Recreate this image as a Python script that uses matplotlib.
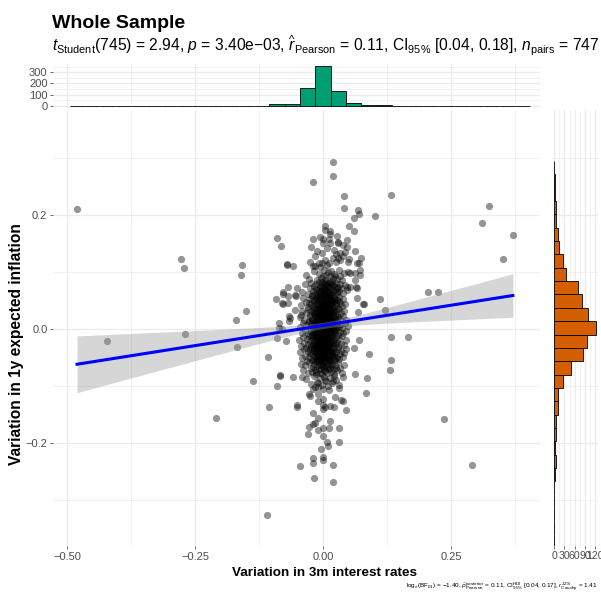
import numpy as np
import matplotlib
matplotlib.use("Agg")
import matplotlib.pyplot as plt

plt.rcParams['font.family'] = ['Liberation Sans', 'DejaVu Sans']
plt.rcParams['mathtext.fontset'] = 'custom'
plt.rcParams['mathtext.rm'] = 'Liberation Sans'
plt.rcParams['mathtext.it'] = 'Liberation Sans:italic'
plt.rcParams['mathtext.bf'] = 'Liberation Sans:bold'

########## data (x = 3m rate change, y = 1y inflation change) ##########
# isolated points away from the central cloud
pts_far = [(-0.481, 0.210), (-0.279, 0.123), (-0.273, 0.106), (-0.158, 0.112), (-0.160, 0.095),
           (-0.152, 0.031), (-0.171, 0.015), (-0.270, -0.009), (-0.423, -0.022), (-0.168, -0.031),
           (-0.108, -0.049), (-0.138, -0.091), (-0.106, -0.137), (-0.209, -0.157), (-0.111, -0.327),
           (0.132, 0.234), (0.100, 0.198), (0.323, 0.216), (0.310, 0.185), (0.370, 0.165),
           (0.350, 0.122), (0.204, 0.065), (0.223, 0.064), (0.111, 0.053), (0.121, 0.033),
           (0.132, -0.015), (0.165, -0.014), (0.090, -0.044), (0.132, -0.054), (0.130, -0.073),
           (0.085, -0.087), (0.084, -0.112), (0.236, -0.158), (0.290, -0.239)]
# points at the left/right fringe of the cloud
pts_fringe = [(-0.090, 0.160), (-0.082, 0.146), (-0.071, 0.112), (-0.071, 0.114), (-0.060, 0.111),
              (-0.092, 0.052), (-0.069, 0.074), (-0.078, 0.061), (-0.078, 0.044), (-0.070, 0.045),
              (-0.086, 0.011), (-0.081, -0.001), (-0.068, 0.023), (-0.068, 0.013), (-0.080, 0.046),
              (-0.078, 0.065), (-0.052, 0.072), (-0.055, 0.060), (-0.070, 0.057), (-0.055, 0.033),
              (-0.065, 0.019), (-0.044, 0.025), (-0.087, 0.002), (-0.053, 0.058), (-0.091, -0.016),
              (-0.073, -0.022), (-0.085, -0.081), (-0.084, -0.083), (-0.090, -0.101), (-0.060, -0.084),
              (-0.042, -0.085), (-0.052, -0.133), (-0.051, -0.137),
              (0.080, 0.044), (0.078, 0.044), (0.068, 0.030), (0.070, -0.019), (0.060, -0.033),
              (0.061, -0.080), (0.065, 0.071), (0.052, 0.074), (0.064, 0.073), (0.047, 0.074),
              (0.065, 0.054), (0.062, 0.086), (0.072, 0.095), (0.061, 0.098), (0.072, 0.104),
              (0.049, 0.099), (0.052, 0.098), (0.065, 0.115), (0.070, 0.115), (0.073, 0.124)]
# points above the cloud
pts_upper = [(0.0195, 0.292), (0.0195, 0.269), (-0.020, 0.257), (0.040, 0.233), (0.040, 0.212),
             (0.067, 0.208), (0.070, 0.202), (0.060, 0.195), (0.004, 0.181), (0.013, 0.171),
             (0.050, 0.180), (0.060, 0.171), (0.013, 0.167), (-0.021, 0.158), (-0.006, 0.161),
             (0.000, 0.158), (0.011, 0.158), (0.046, 0.156), (0.029, 0.152), (-0.024, 0.144),
             (0.000, 0.150), (0.013, 0.150), (0.029, 0.150), (0.046, 0.144), (0.042, 0.135),
             (0.033, 0.133), (0.062, 0.136), (0.020, 0.139), (-0.003, 0.133), (0.033, 0.121),
             (0.049, 0.118), (0.050, 0.122), (0.038, 0.127), (0.018, 0.124), (-0.016, 0.127),
             (-0.003, 0.115), (-0.009, 0.115), (-0.016, 0.111), (-0.020, 0.111), (0.033, 0.092),
             (0.023, 0.092), (0.013, 0.092), (0.026, 0.065), (0.018, 0.051), (0.007, 0.051)]
# points below the cloud
pts_lower = [(0.044, -0.143), (0.039, -0.126), (0.034, -0.125), (0.020, -0.137), (0.030, -0.104),
             (0.022, -0.120), (0.010, -0.108), (0.000, -0.105), (-0.020, -0.106), (-0.010, -0.095),
             (-0.016, -0.102), (-0.010, -0.115), (0.000, -0.123), (0.013, -0.136), (-0.029, -0.115),
             (-0.026, -0.118), (-0.010, -0.126), (0.000, -0.141), (0.004, -0.137), (0.000, -0.133),
             (-0.020, -0.148), (-0.010, -0.156), (0.013, -0.161), (-0.017, -0.165), (-0.020, -0.167),
             (-0.029, -0.173), (-0.030, -0.185), (-0.010, -0.178), (0.000, -0.174), (0.010, -0.174),
             (0.030, -0.174), (0.000, -0.188), (0.008, -0.199), (0.009, -0.206), (0.030, -0.198),
             (-0.004, -0.211), (-0.020, -0.227), (-0.020, -0.235), (0.000, -0.225), (0.000, -0.230),
             (-0.046, -0.240), (0.0195, -0.239), (-0.018, -0.261), (0.0195, -0.268)]
# dense central cloud, listed band by band from top to bottom
pts_core = [
    (-0.026, 0.118), (-0.006, 0.108), (0.008, 0.112), (0.024, 0.117), (0.028, 0.124), (0.010, 0.116),
    (0.004, 0.121), (-0.012, 0.137), (0.007, 0.142), (0.024, 0.131), (0.038, 0.147), (0.003, 0.174),
    (0.027, 0.163),
    (-0.028, 0.088), (-0.019, 0.101), (-0.012, 0.085), (-0.008, 0.097), (-0.004, 0.090), (0.001, 0.104),
    (0.003, 0.086), (0.006, 0.094), (0.009, 0.099), (0.012, 0.084), (0.015, 0.102), (0.018, 0.089),
    (0.021, 0.096), (0.026, 0.087), (0.030, 0.103), (0.036, 0.085), (0.041, 0.098), (-0.033, 0.095),
    (0.000, 0.093),
    (-0.041, 0.064), (-0.036, 0.078), (-0.031, 0.061), (-0.027, 0.072), (-0.024, 0.081), (-0.021, 0.066),
    (-0.019, 0.075), (-0.016, 0.062), (-0.014, 0.079), (-0.012, 0.069), (-0.010, 0.060), (-0.009, 0.083),
    (-0.007, 0.071), (-0.006, 0.064), (-0.004, 0.077), (-0.003, 0.068), (-0.002, 0.082), (-0.001, 0.061),
    (0.000, 0.074), (0.001, 0.066), (0.002, 0.080), (0.003, 0.063), (0.004, 0.072), (0.005, 0.078),
    (0.006, 0.060), (0.007, 0.069), (0.008, 0.076), (0.009, 0.065), (0.010, 0.081), (0.011, 0.062),
    (0.012, 0.073), (0.013, 0.067), (0.014, 0.079), (0.015, 0.061), (0.016, 0.070), (0.017, 0.083),
    (0.019, 0.064), (0.020, 0.076), (0.022, 0.068), (0.024, 0.080), (0.026, 0.062), (0.028, 0.074),
    (0.030, 0.066), (0.032, 0.079), (0.035, 0.071), (0.038, 0.063), (0.042, 0.077), (0.046, 0.069),
    (-0.015, 0.070), (-0.005, 0.075), (0.003, 0.068), (0.009, 0.073), (0.018, 0.077), (-0.022, 0.060),
    (0.000, 0.063), (0.006, 0.082), (-0.009, 0.066), (0.013, 0.059), (0.027, 0.071),
    (-0.044, 0.041), (-0.039, 0.055), (-0.034, 0.047), (-0.030, 0.038), (-0.027, 0.052), (-0.024, 0.044),
    (-0.022, 0.057), (-0.020, 0.040), (-0.018, 0.049), (-0.016, 0.036), (-0.015, 0.054), (-0.013, 0.045),
    (-0.012, 0.058), (-0.011, 0.039), (-0.010, 0.050), (-0.009, 0.043), (-0.008, 0.056), (-0.007, 0.037),
    (-0.006, 0.048), (-0.005, 0.053), (-0.004, 0.041), (-0.003, 0.046), (-0.002, 0.058), (-0.001, 0.039),
    (0.000, 0.051), (0.000, 0.044), (0.001, 0.055), (0.002, 0.037), (0.003, 0.049), (0.004, 0.042),
    (0.004, 0.057), (0.005, 0.046), (0.006, 0.038), (0.007, 0.052), (0.008, 0.044), (0.009, 0.056),
    (0.010, 0.040), (0.011, 0.048), (0.012, 0.054), (0.013, 0.036), (0.014, 0.045), (0.015, 0.051),
    (0.016, 0.041), (0.018, 0.058), (0.019, 0.047), (0.021, 0.039), (0.023, 0.053), (0.025, 0.043),
    (0.027, 0.050), (0.029, 0.037), (0.031, 0.056), (0.033, 0.046), (0.036, 0.040), (0.039, 0.052),
    (0.043, 0.044), (-0.028, 0.046), (-0.017, 0.042), (-0.006, 0.059), (0.002, 0.047), (0.007, 0.041),
    (0.011, 0.057), (0.017, 0.049), (0.024, 0.045), (-0.012, 0.050), (-0.003, 0.038), (0.005, 0.055),
    (0.013, 0.043), (0.020, 0.054), (-0.020, 0.051), (0.030, 0.048), (0.000, 0.040),
    (-0.045, 0.020), (-0.041, 0.031), (-0.037, 0.016), (-0.034, 0.027), (-0.031, 0.035), (-0.029, 0.014),
    (-0.027, 0.024), (-0.025, 0.032), (-0.023, 0.018), (-0.021, 0.029), (-0.020, 0.015), (-0.018, 0.034),
    (-0.017, 0.022), (-0.016, 0.027), (-0.015, 0.013), (-0.014, 0.030), (-0.013, 0.019), (-0.012, 0.025),
    (-0.011, 0.035), (-0.010, 0.016), (-0.009, 0.028), (-0.009, 0.021), (-0.008, 0.033), (-0.007, 0.014),
    (-0.007, 0.026), (-0.006, 0.019), (-0.005, 0.031), (-0.005, 0.023), (-0.004, 0.015), (-0.003, 0.029),
    (-0.003, 0.036), (-0.002, 0.020), (-0.001, 0.026), (-0.001, 0.013), (0.000, 0.032), (0.000, 0.022),
    (0.001, 0.017), (0.001, 0.029), (0.002, 0.024), (0.002, 0.035), (0.003, 0.014), (0.003, 0.027),
    (0.004, 0.020), (0.004, 0.031), (0.005, 0.016), (0.005, 0.025), (0.006, 0.033), (0.006, 0.019),
    (0.007, 0.028), (0.007, 0.013), (0.008, 0.023), (0.008, 0.034), (0.009, 0.018), (0.010, 0.030),
    (0.010, 0.021), (0.011, 0.026), (0.012, 0.015), (0.012, 0.032), (0.013, 0.024), (0.014, 0.019),
    (0.015, 0.029), (0.016, 0.014), (0.017, 0.035), (0.018, 0.022), (0.019, 0.027), (0.020, 0.017),
    (0.021, 0.031), (0.023, 0.020), (0.024, 0.033), (0.026, 0.015), (0.027, 0.026), (0.029, 0.021),
    (0.031, 0.034), (0.033, 0.018), (0.035, 0.028), (0.038, 0.023), (0.041, 0.031), (0.045, 0.016),
    (-0.026, 0.021), (-0.019, 0.028), (-0.010, 0.024), (-0.004, 0.034), (0.002, 0.018), (0.006, 0.029),
    (0.011, 0.022), (0.016, 0.033), (0.022, 0.025), (-0.014, 0.017), (0.000, 0.027), (0.009, 0.014),
    (-0.046, 0.004), (-0.042, -0.007), (-0.039, 0.010), (-0.036, -0.002), (-0.033, 0.006), (-0.031, -0.009),
    (-0.029, 0.012), (-0.027, 0.001), (-0.025, -0.005), (-0.023, 0.008), (-0.022, -0.010), (-0.021, 0.003),
    (-0.019, 0.011), (-0.018, -0.004), (-0.017, 0.006), (-0.016, -0.008), (-0.015, 0.000), (-0.014, 0.009),
    (-0.014, -0.003), (-0.013, 0.004), (-0.012, -0.011), (-0.012, 0.012), (-0.011, -0.001), (-0.010, 0.007),
    (-0.010, -0.006), (-0.009, 0.002), (-0.009, 0.010), (-0.008, -0.004), (-0.008, 0.005), (-0.007, -0.009),
    (-0.007, 0.013), (-0.006, 0.000), (-0.006, 0.008), (-0.005, -0.005), (-0.005, 0.003), (-0.004, 0.011),
    (-0.004, -0.002), (-0.003, 0.006), (-0.003, -0.008), (-0.002, 0.001), (-0.002, 0.009), (-0.001, -0.006),
    (-0.001, 0.004), (0.000, -0.010), (0.000, 0.012), (0.000, 0.002), (0.001, -0.003), (0.001, 0.007),
    (0.002, -0.007), (0.002, 0.010), (0.003, 0.000), (0.003, 0.005), (0.004, -0.009), (0.004, 0.013),
    (0.005, -0.001), (0.005, 0.008), (0.006, -0.005), (0.006, 0.003), (0.007, 0.011), (0.007, -0.004),
    (0.008, 0.006), (0.008, -0.010), (0.009, 0.001), (0.009, 0.009), (0.010, -0.006), (0.010, 0.004),
    (0.011, 0.012), (0.011, -0.002), (0.012, 0.007), (0.012, -0.008), (0.013, 0.002), (0.014, 0.010),
    (0.014, -0.005), (0.015, 0.005), (0.016, -0.001), (0.017, 0.011), (0.017, -0.009), (0.018, 0.003),
    (0.019, 0.008), (0.020, -0.004), (0.021, 0.012), (0.022, 0.000), (0.023, -0.007), (0.024, 0.006),
    (0.025, -0.002), (0.027, 0.010), (0.028, -0.010), (0.030, 0.004), (0.032, -0.005), (0.034, 0.008),
    (0.036, 0.001), (0.039, -0.008), (0.042, 0.011), (0.045, -0.003), (0.048, 0.005), (-0.020, -0.007),
    (-0.011, 0.009), (-0.003, -0.011), (0.001, 0.011), (0.006, -0.008), (0.013, 0.008), (-0.016, 0.005),
    (-0.008, -0.001), (0.004, 0.002), (0.009, -0.003), (0.016, 0.012), (-0.001, 0.006), (0.003, -0.004),
    (-0.013, -0.006), (0.019, -0.002), (0.026, 0.003), (-0.024, 0.011), (0.011, 0.000), (-0.006, 0.012),
    (0.000, -0.005), (0.007, 0.008),
    (-0.047, -0.019), (-0.043, -0.030), (-0.040, -0.014), (-0.037, -0.025), (-0.034, -0.033), (-0.032, -0.017),
    (-0.030, -0.027), (-0.028, -0.012), (-0.026, -0.022), (-0.024, -0.031), (-0.023, -0.016), (-0.021, -0.026),
    (-0.020, -0.013), (-0.019, -0.034), (-0.018, -0.020), (-0.017, -0.029), (-0.016, -0.015), (-0.015, -0.024),
    (-0.014, -0.032), (-0.013, -0.018), (-0.012, -0.027), (-0.011, -0.012), (-0.011, -0.021), (-0.010, -0.030),
    (-0.009, -0.016), (-0.009, -0.025), (-0.008, -0.033), (-0.007, -0.019), (-0.007, -0.028), (-0.006, -0.013),
    (-0.005, -0.023), (-0.005, -0.031), (-0.004, -0.017), (-0.003, -0.026), (-0.003, -0.014), (-0.002, -0.022),
    (-0.001, -0.032), (-0.001, -0.018), (0.000, -0.027), (0.000, -0.012), (0.001, -0.021), (0.002, -0.030),
    (0.002, -0.016), (0.003, -0.025), (0.004, -0.034), (0.004, -0.019), (0.005, -0.028), (0.006, -0.013),
    (0.006, -0.023), (0.007, -0.031), (0.008, -0.017), (0.009, -0.026), (0.009, -0.014), (0.010, -0.022),
    (0.011, -0.032), (0.012, -0.018), (0.013, -0.027), (0.014, -0.012), (0.015, -0.021), (0.016, -0.030),
    (0.017, -0.016), (0.018, -0.025), (0.020, -0.033), (0.021, -0.019), (0.023, -0.028), (0.025, -0.014),
    (0.027, -0.023), (0.029, -0.031), (0.031, -0.017), (0.034, -0.026), (0.037, -0.013), (0.040, -0.029),
    (0.044, -0.020), (-0.025, -0.029), (-0.015, -0.013), (-0.008, -0.024), (-0.002, -0.029), (0.003, -0.014),
    (0.008, -0.033), (0.012, -0.024), (0.019, -0.012), (-0.012, -0.033), (-0.004, -0.020), (0.001, -0.026),
    (0.005, -0.017), (0.011, -0.028), (-0.018, -0.023), (0.024, -0.024),
    (-0.046, -0.041), (-0.042, -0.052), (-0.038, -0.036), (-0.035, -0.047), (-0.032, -0.056), (-0.030, -0.039),
    (-0.028, -0.050), (-0.026, -0.035), (-0.024, -0.044), (-0.022, -0.054), (-0.021, -0.038), (-0.019, -0.048),
    (-0.018, -0.034), (-0.017, -0.057), (-0.016, -0.042), (-0.015, -0.051), (-0.014, -0.037), (-0.013, -0.046),
    (-0.012, -0.055), (-0.011, -0.040), (-0.010, -0.049), (-0.009, -0.035), (-0.008, -0.044), (-0.007, -0.053),
    (-0.006, -0.039), (-0.005, -0.048), (-0.005, -0.036), (-0.004, -0.057), (-0.003, -0.043), (-0.002, -0.051),
    (-0.001, -0.038), (0.000, -0.046), (0.000, -0.055), (0.001, -0.035), (0.002, -0.044), (0.003, -0.052),
    (0.004, -0.040), (0.004, -0.049), (0.005, -0.034), (0.006, -0.056), (0.007, -0.042), (0.008, -0.050),
    (0.009, -0.037), (0.010, -0.045), (0.011, -0.054), (0.012, -0.039), (0.013, -0.048), (0.014, -0.036),
    (0.015, -0.057), (0.016, -0.043), (0.018, -0.051), (0.019, -0.038), (0.021, -0.047), (0.022, -0.055),
    (0.024, -0.041), (0.026, -0.049), (0.028, -0.035), (0.030, -0.053), (0.032, -0.044), (0.035, -0.038),
    (0.038, -0.050), (0.041, -0.042), (0.045, -0.036), (-0.027, -0.043), (-0.020, -0.055), (-0.012, -0.045),
    (-0.006, -0.051), (-0.001, -0.041), (0.003, -0.047), (0.007, -0.036), (0.011, -0.051), (0.017, -0.046),
    (0.025, -0.052), (-0.015, -0.039), (-0.008, -0.056), (0.002, -0.038), (0.009, -0.053), (0.014, -0.041),
    (-0.003, -0.047), (0.020, -0.042),
    (-0.044, -0.061), (-0.039, -0.072), (-0.035, -0.064), (-0.031, -0.078), (-0.028, -0.059), (-0.025, -0.069),
    (-0.022, -0.076), (-0.019, -0.062), (-0.017, -0.073), (-0.015, -0.080), (-0.013, -0.066), (-0.011, -0.058),
    (-0.009, -0.071), (-0.007, -0.077), (-0.005, -0.063), (-0.004, -0.070), (-0.002, -0.079), (0.000, -0.060),
    (0.001, -0.067), (0.003, -0.074), (0.004, -0.058), (0.006, -0.065), (0.007, -0.078), (0.009, -0.062),
    (0.010, -0.071), (0.012, -0.057), (0.013, -0.068), (0.015, -0.076), (0.017, -0.061), (0.019, -0.070),
    (0.021, -0.079), (0.023, -0.064), (0.026, -0.073), (0.029, -0.059), (0.032, -0.068), (0.036, -0.077),
    (0.040, -0.063), (-0.020, -0.067), (-0.008, -0.063), (0.002, -0.072), (0.008, -0.069), (0.014, -0.063),
    (-0.014, -0.075), (-0.001, -0.066), (0.024, -0.069),
    (-0.033, -0.088), (-0.024, -0.097), (-0.018, -0.083), (-0.012, -0.093), (-0.007, -0.086), (-0.003, -0.099),
    (0.001, -0.084), (0.005, -0.092), (0.009, -0.101), (0.012, -0.087), (0.016, -0.095), (0.020, -0.082),
    (0.025, -0.090), (0.031, -0.098), (0.038, -0.085), (-0.010, -0.102), (0.003, -0.089), (0.018, -0.091)]

# marginal histogram counts
x_bin_start, x_bin_width = -0.4956, 0.0300
x_counts = [1, 0, 1, 0, 0, 0, 0, 3, 0, 1, 2, 4, 3, 14, 22, 156, 355, 135, 30, 6, 6, 0, 1, 2, 1, 0, 2, 1, 2, 0]
y_bin_start, y_bin_width = -0.3848, 0.02343
y_counts = [0, 0, 1, 0, 0, 2, 7, 3, 7, 6, 11, 11, 26, 48, 83, 96, 122, 99, 81, 70, 34, 26, 15, 11, 6, 6, 2, 2, 1]

title = "Whole Sample"
subtitle = (r"$t_{\mathrm{Student}}$(745) = 2.94, $p$ = 3.40e" + "\u2212" + r"03, "
            r"$\widehat{r}_{\mathrm{Pearson}}$ = 0.11, CI$_{95\%}$ [0.04, 0.18], $n_{\mathrm{pairs}}$ = 747")
caption = (r"log$_{e}$(BF$_{01}$) = " + "\u2212" + r"1.40, $\widehat{\rho}_{\mathrm{Pearson}}^{\mathrm{posterior}}$ = 0.11, "
           r"CI$_{95\%}^{\mathrm{HDI}}$ [0.04, 0.17], $r_{\mathrm{Cauchy}}^{\mathrm{JZS}}$ = 1.41")

pts = np.array(pts_far + pts_fringe + pts_upper + pts_lower + pts_core)
x, y = pts[:, 0], pts[:, 1]

W, H = 601, 592
fig = plt.figure(figsize=(W / 100, H / 100), dpi=100)
ax = fig.add_axes([53 / W, 46 / H, 487 / W, 436 / H])
ax_top = fig.add_axes([53 / W, 484 / H, 487 / W, 44 / H])
ax_right = fig.add_axes([552 / W, 46 / H, 46 / W, 436 / H])

tick_col = '#333333'
lab_col = '#4D4D4D'
grid_col = '#EBEBEB'


def style(a):
    for s in a.spines.values():
        s.set_visible(False)
    a.set_axisbelow(True)
    a.grid(which='major', color=grid_col, linewidth=0.9)
    a.grid(which='minor', color=grid_col, linewidth=0.5)
    a.tick_params(which='major', length=2.5, width=0.5, color=tick_col, labelcolor=lab_col, labelsize=8, pad=1.5)
    a.tick_params(which='minor', length=0)


# scatter + linear fit with 95% CI
ax.scatter(x, y, s=27, color='black', alpha=0.42, linewidths=0, zorder=2)
slope, intercept = np.polyfit(x, y, 1)
n = len(x)
resid = y - (slope * x + intercept)
s_err = np.sqrt(np.sum(resid ** 2) / (n - 2))
sxx = np.sum((x - x.mean()) ** 2)
xf = np.linspace(x.min(), x.max(), 100)
yf = slope * xf + intercept
half = 1.963 * s_err * np.sqrt(1 / n + (xf - x.mean()) ** 2 / sxx)
ax.fill_between(xf, yf - half, yf + half, color='#999999', alpha=0.4, linewidth=0, zorder=3)
ax.plot(xf, yf, color='blue', linewidth=2.2, zorder=4)

ax.set_xlim(-0.528, 0.423)
ax.set_ylim(-0.381, 0.384)
ax.set_xticks([-0.5, -0.25, 0.0, 0.25])
ax.set_xticklabels(['\u22120.50', '\u22120.25', '0.00', '0.25'])
ax.set_xticks([-0.375, -0.125, 0.125, 0.375], minor=True)
ax.set_yticks([-0.2, 0.0, 0.2])
ax.set_yticklabels(['\u22120.2', '0.0', '0.2'])
ax.set_yticks([-0.3, -0.1, 0.1, 0.3], minor=True)
style(ax)

# top marginal histogram
x_left = [x_bin_start + i * x_bin_width for i in range(len(x_counts))]
ax_top.bar(x_left, x_counts, width=x_bin_width, align='edge', color='#009E73',
           edgecolor='black', linewidth=0.6, zorder=2)
ax_top.set_xlim(ax.get_xlim())
ax_top.set_xticks(ax.get_xticks())
ax_top.set_xticks([-0.375, -0.125, 0.125, 0.375], minor=True)
ax_top.set_xticklabels([])
ax_top.set_ylim(-17.75, 372.75)
ax_top.set_yticks([0, 100, 200, 300])
ax_top.set_yticks([50, 150, 250, 350], minor=True)
style(ax_top)
ax_top.tick_params(axis='x', length=0)

# right marginal histogram
y_low = [y_bin_start + i * y_bin_width for i in range(len(y_counts))]
ax_right.barh(y_low, y_counts, height=y_bin_width, align='edge', color='#D55E00',
              edgecolor='black', linewidth=0.6, zorder=2)
ax_right.set_ylim(ax.get_ylim())
ax_right.set_yticks([-0.2, 0.0, 0.2])
ax_right.set_yticks([-0.3, -0.1, 0.1, 0.3], minor=True)
ax_right.set_yticklabels([])
ax_right.set_xlim(-6.1, 128.1)
ax_right.set_xticks([0, 30, 60, 90, 120])
ax_right.set_xticks([15, 45, 75, 105], minor=True)
style(ax_right)
ax_right.tick_params(axis='y', length=0)
ax_right.tick_params(axis='x', labelsize=7.6, pad=1)

# titles and labels
fig.text(52 / W, 1 - 28 / H, title, fontsize=14, fontweight='bold', ha='left', va='baseline')
fig.text(52 / W, 1 - 51 / H, subtitle, fontsize=11.25, ha='left', va='baseline')
fig.text(324 / W, 1 - 573 / H, "Variation in 3m interest rates", fontsize=9.7, fontweight='bold',
         ha='center', va='center')
fig.text(17 / W, 1 - 344 / H, "Variation in 1y expected inflation", fontsize=11.2, fontweight='bold',
         ha='center', va='center', rotation=90)
fig.text(598 / W, 1 - 588 / H, caption, fontsize=4.6, ha='right', va='baseline')

plt.savefig('out.png', dpi=100)
